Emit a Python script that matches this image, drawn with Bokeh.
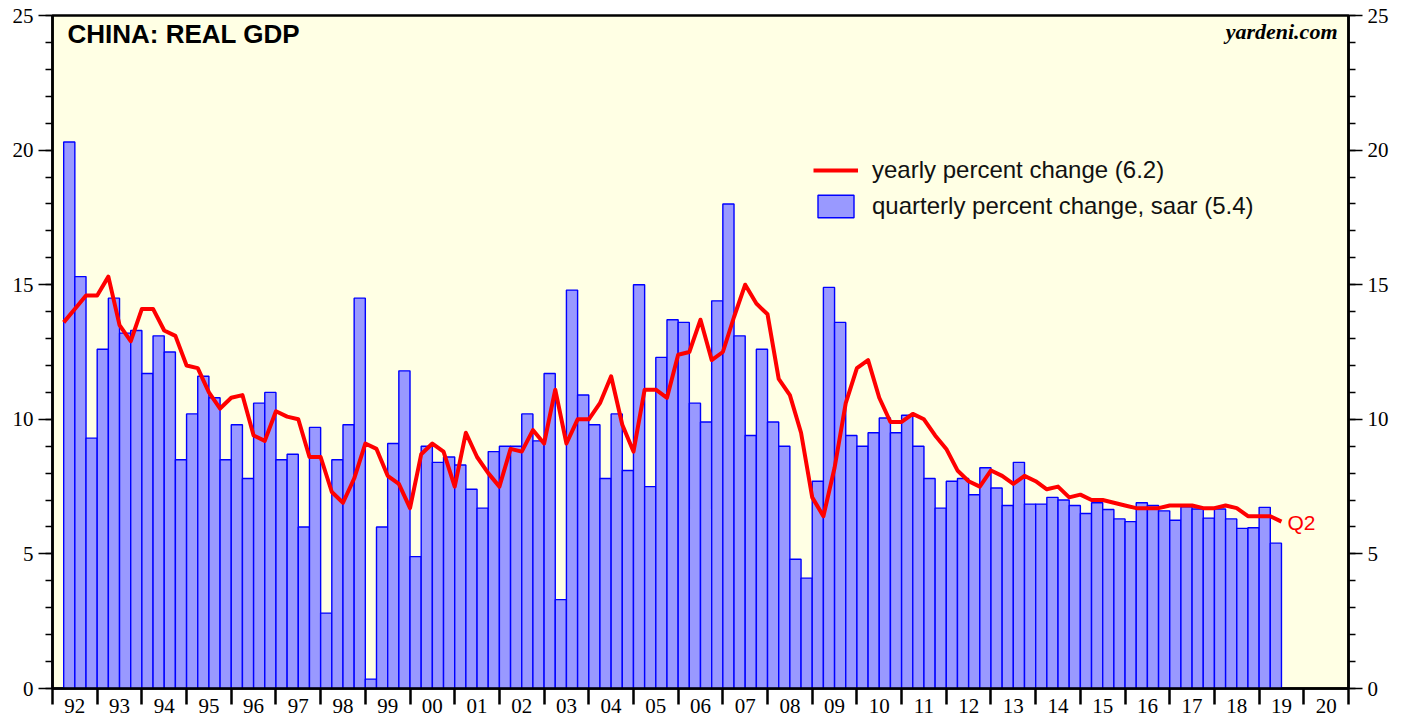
from bokeh.plotting import figure
from bokeh.models import FixedTicker, LinearAxis, Range1d, Legend, LegendItem, ColumnDataSource, Label
from bokeh.embed import file_html
from bokeh.resources import INLINE

start_year = 1992

# yearly percent change, 1992Q1 .. 2019Q2
yearly_pct = [
    13.6, 14.1, 14.6, 14.6,
    15.3, 13.5, 12.9, 14.1,
    14.1, 13.3, 13.1, 12.0,
    11.9, 11.0, 10.4, 10.8,
    10.9, 9.4, 9.2, 10.3,
    10.1, 10.0, 8.6, 8.6,
    7.3, 6.9, 7.8, 9.1,
    8.9, 7.9, 7.6, 6.7,
    8.7, 9.1, 8.8, 7.5,
    9.5, 8.6, 8.0, 7.5,
    8.9, 8.8, 9.6, 9.1,
    11.1, 9.1, 10.0, 10.0,
    10.6, 11.6, 9.8, 8.8,
    11.1, 11.1, 10.8, 12.4,
    12.5, 13.7, 12.2, 12.5,
    13.8, 15.0, 14.3, 13.9,
    11.5, 10.9, 9.5, 7.1,
    6.4, 8.2, 10.6, 11.9,
    12.2, 10.8, 9.9, 9.9,
    10.2, 10.0, 9.4, 8.9,
    8.1, 7.7, 7.5, 8.1,
    7.9, 7.6, 7.9, 7.7,
    7.4, 7.5, 7.1, 7.2,
    7.0, 7.0, 6.9, 6.8,
    6.7, 6.7, 6.7, 6.8,
    6.8, 6.8, 6.7, 6.7,
    6.8, 6.7, 6.4, 6.4,
    6.4, 6.2,
]

# quarterly percent change, saar, 1992Q2 .. 2019Q2
quarterly_saar = [
    20.3, 15.3, 9.3,
    12.6, 14.5, 13.2, 13.3,
    11.7, 13.1, 12.5, 8.5,
    10.2, 11.6, 10.8, 8.5,
    9.8, 7.8, 10.6, 11.0,
    8.5, 8.7, 6.0, 9.7,
    2.8, 8.5, 9.8, 14.5,
    0.35, 6.0, 9.1, 11.8,
    4.9, 9.0, 8.4, 8.6,
    8.3, 7.4, 6.7, 8.8,
    9.0, 9.0, 10.2, 9.2,
    11.7, 3.3, 14.8, 10.9,
    9.8, 7.8, 10.2, 8.1,
    15.0, 7.5, 12.3, 13.7,
    13.6, 10.6, 9.9, 14.4,
    18.0, 13.1, 9.4, 12.6,
    9.9, 9.0, 4.8, 4.1,
    7.7, 14.9, 13.6, 9.4,
    9.0, 9.5, 10.05, 9.5,
    10.15, 9.0, 7.8, 6.7,
    7.7, 7.8, 7.2, 8.2,
    7.45, 6.8, 8.4, 6.85,
    6.85, 7.1, 7.0, 6.8,
    6.5, 6.9, 6.65, 6.3,
    6.2, 6.9, 6.8, 6.6,
    6.25, 6.75, 6.67, 6.33,
    6.67, 6.3, 5.95, 5.97,
    6.73, 5.4,
]

year_labels = ["92", "93", "94", "95", "96", "97", "98", "99", "00", "01",
               "02", "03", "04", "05", "06", "07", "08", "09", "10", "11",
               "12", "13", "14", "15", "16", "17", "18", "19", "20"]

line_x = [start_year + (i + 1) / 4 for i in range(len(yearly_pct))]
bar_x = [start_year + (i + 1) / 4 + 0.125 for i in range(len(quarterly_saar))]

bar_src = ColumnDataSource(dict(x=bar_x, top=quarterly_saar))
line_src = ColumnDataSource(dict(x=line_x, y=yearly_pct))

end_year = start_year + len(year_labels)

p = figure(width=1408, height=719,
           x_range=Range1d(start_year, end_year), y_range=Range1d(0, 25),
           output_backend="svg", toolbar_location=None,
           min_border_left=52, min_border_right=60, min_border_top=15, min_border_bottom=31,
           background_fill_color="#FFFFE4", border_fill_color="white",
           x_axis_location="below", y_axis_location="left")

p.xgrid.visible = False
p.ygrid.visible = False
p.outline_line_color = "black"
p.outline_line_width = 2.5
p.outline_line_alpha = 1

bars = p.vbar(x="x", top="top", bottom=0, width=0.25, source=bar_src,
              fill_color="#9999FF", line_color="#0000FF", line_width=1.4)
line = p.line(x="x", y="y", source=line_src, line_color="#FF0000", line_width=4,
              line_join="round")

# x axis: labels centred in years, ticks at year boundaries
xa = p.xaxis[0]
mid_ticks = [start_year + i + 0.5 for i in range(len(year_labels))]
xa.ticker = FixedTicker(ticks=mid_ticks,
                        minor_ticks=[start_year + i for i in range(len(year_labels) + 1)])
xa.major_label_overrides = {t: lab for t, lab in zip(mid_ticks, year_labels)}
xa.major_tick_out = 0
xa.major_tick_in = 0
xa.minor_tick_out = 16
xa.minor_tick_in = 0
xa.minor_tick_line_width = 2.5
xa.axis_line_width = 2.5
xa.major_label_standoff = -6
xa.major_label_text_font = "Liberation Serif"
xa.major_label_text_font_size = "21px"
xa.major_label_text_color = "black"

ry = LinearAxis()
p.add_layout(ry, "right")
for ax in (p.yaxis[0], ry):
    ax.ticker = FixedTicker(ticks=[0, 5, 10, 15, 20, 25], minor_ticks=list(range(26)))
    ax.major_tick_out = 14
    ax.major_tick_in = 0
    ax.minor_tick_out = 7
    ax.minor_tick_in = 0
    ax.major_tick_line_width = 1.5
    ax.minor_tick_line_width = 1.5
    ax.axis_line_width = 2.5
    ax.major_label_standoff = 5
    ax.major_label_text_font = "Liberation Serif"
    ax.major_label_text_font_size = "21px"
    ax.major_label_text_color = "black"

p.add_layout(Label(x=start_year, y=24.3, x_offset=15, text="CHINA: REAL GDP",
                   text_font="Liberation Sans", text_font_style="bold",
                   text_font_size="26px", text_baseline="middle", text_color="black"))
p.add_layout(Label(x=end_year, y=24.4, x_offset=-11, text="yardeni.com",
                   text_font="Liberation Serif", text_font_style="bold italic",
                   text_font_size="22px", text_baseline="middle", text_align="right",
                   text_color="black"))
p.add_layout(Label(x=line_x[-1], y=yearly_pct[-1], x_offset=6, y_offset=-1, text="Q2",
                   text_font="Liberation Sans", text_font_size="21px",
                   text_baseline="middle", text_color="#FF0000"))

legend = Legend(items=[LegendItem(label="yearly percent change (6.2)", renderers=[line]),
                       LegendItem(label="quarterly percent change, saar (5.4)", renderers=[bars])],
                location=(761, 468), glyph_width=45, glyph_height=28, spacing=8,
                padding=0, margin=0, label_standoff=14,
                label_text_font="Liberation Sans", label_text_font_size="24px",
                label_text_color="#111111",
                border_line_alpha=0, background_fill_alpha=0)
p.add_layout(legend, "center")

open("out.html", "w").write(file_html(p, INLINE))
